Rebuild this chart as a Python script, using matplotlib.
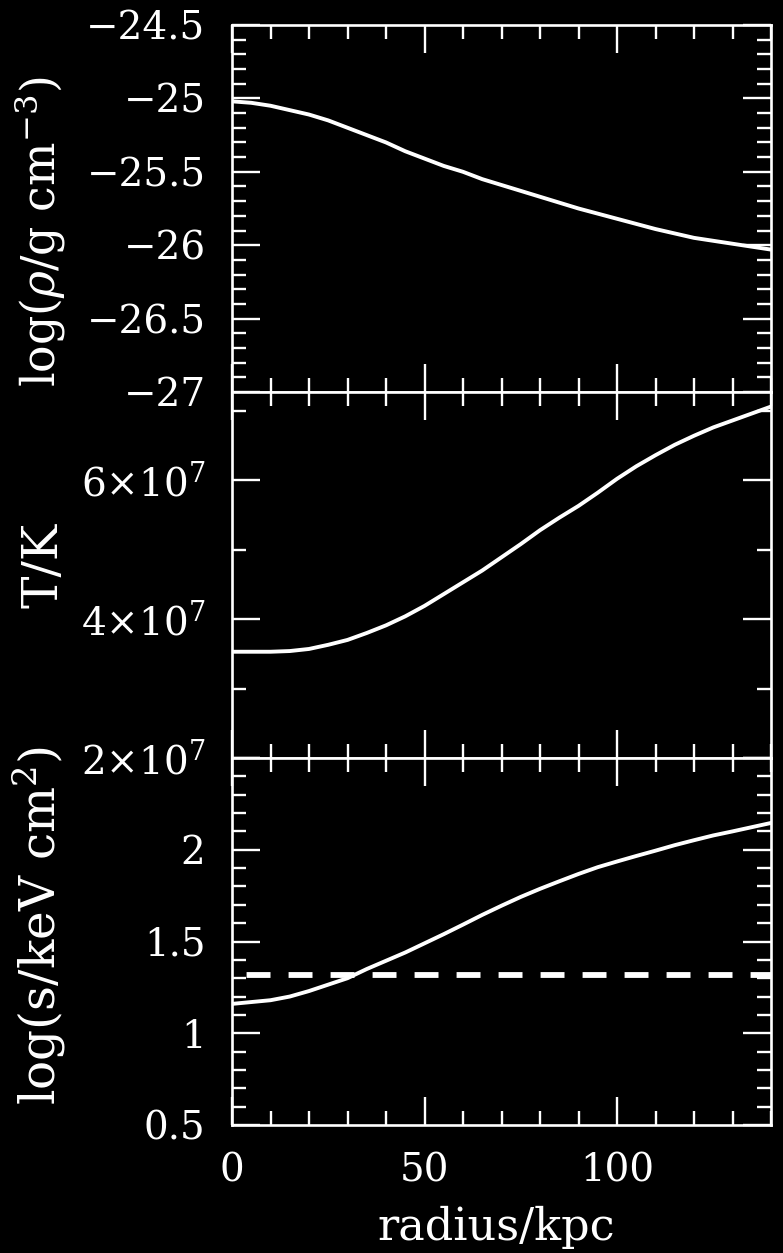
import matplotlib
matplotlib.use("Agg")
import matplotlib.pyplot as plt
from matplotlib.ticker import MultipleLocator, FixedLocator, FixedFormatter

# ---- data ----
radius_kpc = [0, 5, 10, 15, 20, 25, 30, 35, 40, 45, 50, 55, 60, 65, 70,
              75, 80, 85, 90, 95, 100, 105, 110, 115, 120, 125, 130, 135, 140]
log_density = [-25.02, -25.03, -25.05, -25.08, -25.11, -25.15, -25.20, -25.25,
               -25.30, -25.36, -25.41, -25.46, -25.50, -25.55, -25.59, -25.63,
               -25.67, -25.71, -25.75, -25.785, -25.82, -25.855, -25.89, -25.92,
               -25.95, -25.97, -25.99, -26.01, -26.03]
temperature_1e7 = [3.53, 3.53, 3.53, 3.54, 3.57, 3.63, 3.70, 3.80, 3.91, 4.04,
                   4.19, 4.36, 4.53, 4.70, 4.89, 5.08, 5.28, 5.46, 5.63, 5.82,
                   6.02, 6.20, 6.36, 6.51, 6.64, 6.76, 6.86, 6.96, 7.06]
log_entropy = [1.16, 1.17, 1.18, 1.20, 1.23, 1.265, 1.30, 1.35, 1.395, 1.44,
               1.49, 1.54, 1.592, 1.645, 1.695, 1.743, 1.787, 1.828, 1.868,
               1.905, 1.936, 1.966, 1.995, 2.025, 2.052, 2.078, 2.10, 2.123, 2.146]
entropy_threshold = 1.32

dens_ticks = [-27, -26.5, -26, -25.5, -25, -24.5]
dens_labels = ["\u221227", "\u221226.5", "\u221226", "\u221225.5", "\u221225", "\u221224.5"]
temp_ticks = [2e7, 4e7, 6e7]
temp_labels = [r"$2{\times}10^{7}$", r"$4{\times}10^{7}$", r"$6{\times}10^{7}$"]
temp_minor = [3e7, 5e7, 7e7]
ent_ticks = [0.5, 1, 1.5, 2, 2.5]
ent_labels = ["0.5", "1", "1.5", "2", ""]
x_ticks = [0, 50, 100]
x_labels = ["0", "50", "100"]

plt.rcParams["font.family"] = ["DejaVu Serif"]
plt.rcParams["mathtext.fontset"] = "dejavuserif"

W, H = 783, 1253
fig = plt.figure(figsize=(W / 100, H / 100), dpi=100, facecolor="black")

left, right = 232, 771
bounds = [(25, 392), (392, 758), (758, 1125)]
axes = []
for top, bot in bounds:
    ax = fig.add_axes([left / W, 1 - bot / H, (right - left) / W, (bot - top) / H])
    axes.append(ax)

FS = 28
for ax in axes:
    ax.set_facecolor("black")
    for s in ax.spines.values():
        s.set_color("white")
        s.set_linewidth(1.9)
    ax.set_xlim(0, 140)
    ax.xaxis.set_major_locator(FixedLocator(x_ticks))
    ax.xaxis.set_minor_locator(MultipleLocator(10))
    ax.tick_params(which="both", direction="in", top=True, right=True,
                   colors="white", width=1.7, labelsize=FS, pad=19)
    ax.tick_params(which="major", length=20)
    ax.tick_params(which="minor", length=10)
    ax.tick_params(axis="x", labelbottom=False)

ax1, ax2, ax3 = axes
LW = 2.8

# density
ax1.plot(radius_kpc, log_density, color="white", lw=LW)
ax1.set_ylim(-27, -24.5)
ax1.yaxis.set_major_locator(FixedLocator(dens_ticks))
ax1.yaxis.set_major_formatter(FixedFormatter(dens_labels))
ax1.yaxis.set_minor_locator(MultipleLocator(0.1))
ax1.set_ylabel(r"log($\rho$/g cm$^{-3}$)", color="white", fontsize=33)
ax1.yaxis.set_label_coords(-0.305, 0.437)

# temperature
ax2.plot(radius_kpc, [t * 1e7 for t in temperature_1e7], color="white", lw=LW)
ax2.set_ylim(2e7, 7.27e7)
ax2.yaxis.set_major_locator(FixedLocator(temp_ticks))
ax2.yaxis.set_major_formatter(FixedFormatter(temp_labels))
ax2.yaxis.set_minor_locator(FixedLocator(temp_minor))
ax2.set_ylabel("T/K", color="white", fontsize=35)
ax2.yaxis.set_label_coords(-0.305, 0.527)

# entropy
ax3.plot(radius_kpc, log_entropy, color="white", lw=LW)
ax3.plot([0, 140], [entropy_threshold, entropy_threshold], color="white",
         lw=4.2, linestyle=(4.7, (4.1, 3.1)), dash_capstyle="butt")
ax3.set_ylim(0.5, 2.5)
ax3.yaxis.set_major_locator(FixedLocator(ent_ticks))
ax3.yaxis.set_major_formatter(FixedFormatter(ent_labels))
ax3.yaxis.set_minor_locator(MultipleLocator(0.1))
ax3.set_ylabel(r"log(s/keV cm$^{2}$)", color="white", fontsize=35)
ax3.yaxis.set_label_coords(-0.305, 0.544)
ax3.tick_params(axis="x", labelbottom=True, pad=20)
ax3.xaxis.set_major_formatter(FixedFormatter(x_labels))
ax3.set_xlabel("radius/kpc", color="white", fontsize=32)
ax3.xaxis.set_label_coords(0.49, -0.221)

fig.savefig("out.png", dpi=100, facecolor="black")
